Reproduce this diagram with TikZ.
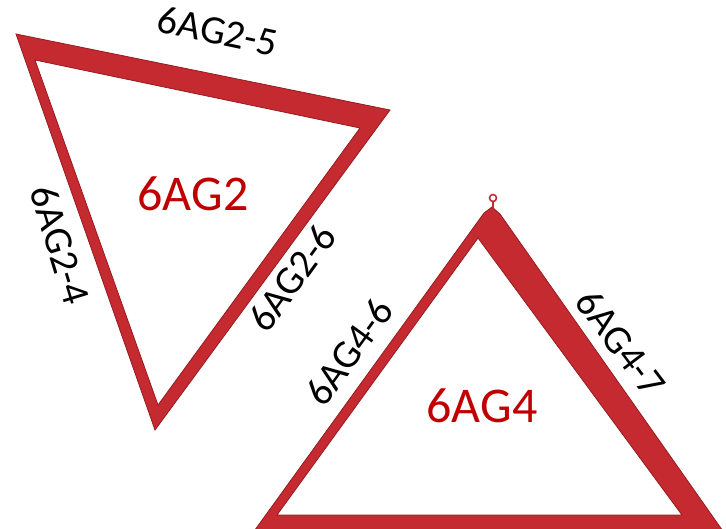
\documentclass[tikz,border=0pt]{standalone}
\usepackage{fontspec}
\setmainfont{Carlito}
\definecolor{framered}{RGB}{196,42,48}
\definecolor{framedark}{RGB}{150,28,32}
\definecolor{labelred}{RGB}{192,0,0}
\begin{document}
\begin{tikzpicture}[x=1pt,y=-1pt,
  frame/.style={fill=framered, draw=framedark, line width=0.8pt, even odd rule, line join=miter},
  lbl/.style={font=\fontsize{40}{40}\selectfont, inner sep=0pt, text=black},
  big/.style={font=\fontsize{50}{50}\selectfont, inner sep=0pt, text=labelred}]
\useasboundingbox (0,0) rectangle (726,528);
\clip (0,0) rectangle (726,528);
% triangle 6AG2
\path[frame] (16,34) -- (390,110) -- (155,430) -- cycle
             (35,60) -- (360,128) -- (158,405) -- cycle;
% triangle 6AG4
\path[frame] (252,534) -- (484,213) -- (492,207) -- (500,214) -- (725,534) -- cycle
             (277,515) -- (478,238) -- (682,515) -- cycle;
\draw[framered, line width=1.6pt] (493,198) circle (3.5);
\draw[framered, line width=1.6pt] (493,201.5) -- (493,208);
% labels
\node[lbl, rotate=-12] (l25) at (218,31) {6AG2-5};
\node[lbl, rotate=-73] (l24) at (60,245) {6AG2-4};
\node[lbl, rotate=54] (l26) at (292,278) {6AG2-6};
\node[lbl, rotate=54] (l46) at (349,352) {6AG4-6};
\node[lbl, rotate=-53] (l47) at (621,343) {6AG4-7};
\node[big] (t2) at (193,194) {6AG2};
\node[big] (t4) at (482,406) {6AG4};
\end{tikzpicture}
\end{document}
